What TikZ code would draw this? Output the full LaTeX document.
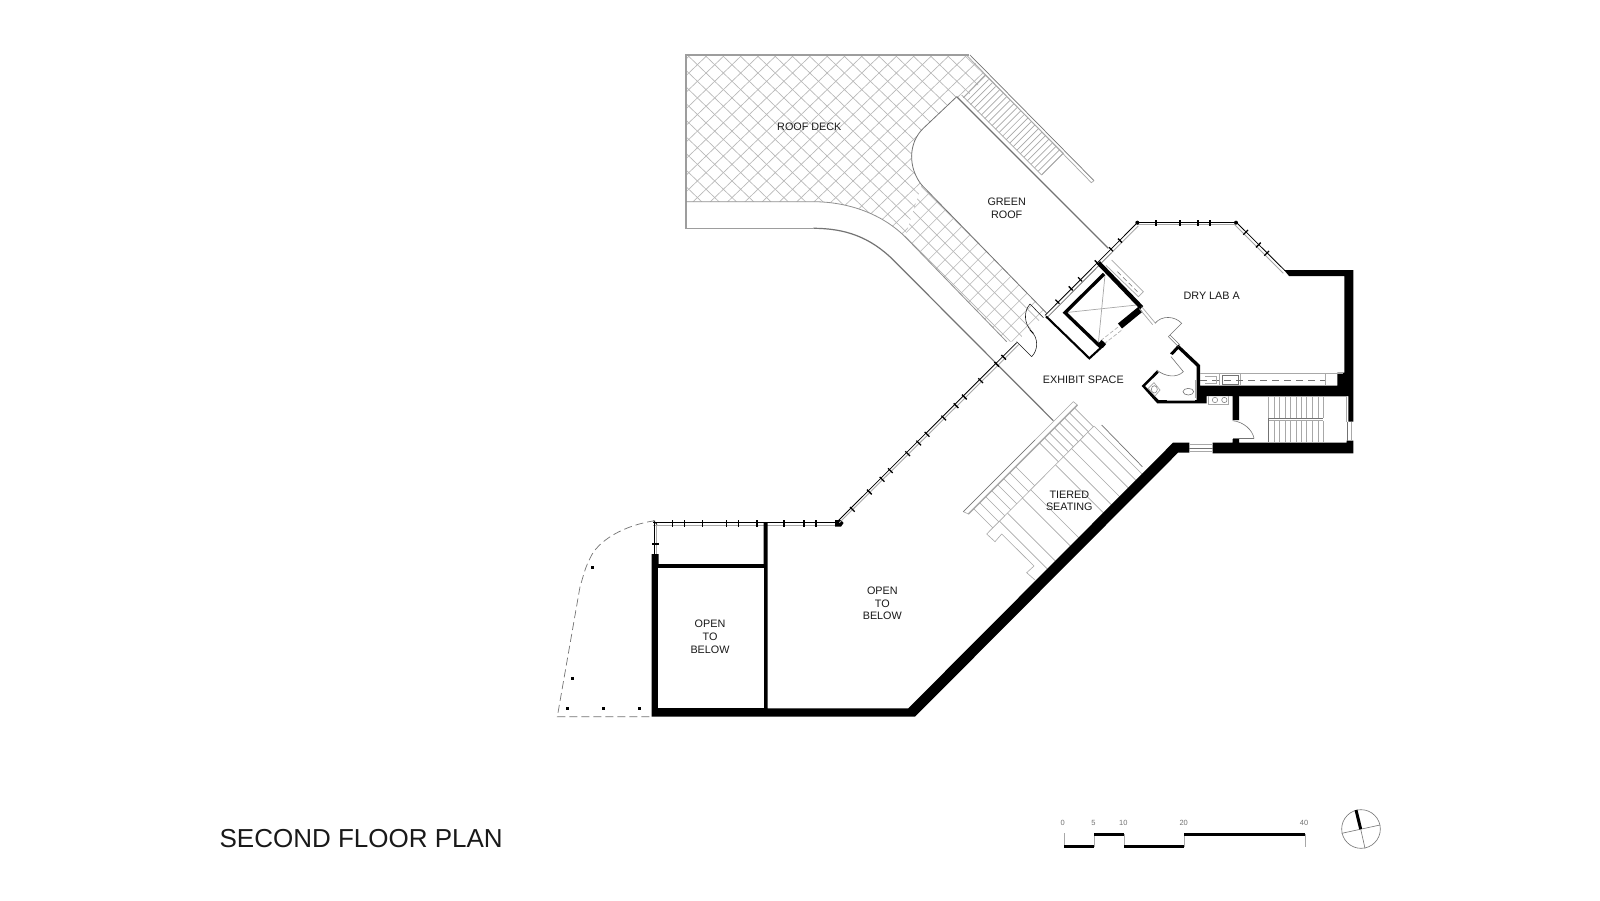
\documentclass[tikz,border=0pt]{standalone}
\usepackage{fontspec}
\setmainfont{Liberation Sans}
\definecolor{hatch}{gray}{0.72}
\definecolor{fine}{gray}{0.66}
\definecolor{mid}{gray}{0.45}
\definecolor{ink}{gray}{0.1}
\tikzset{
  wall/.style={fill=black,draw=none},
  wline/.style={draw=black,line join=miter},
  fineline/.style={draw=fine,line width=0.7pt},
  hatchline/.style={draw=hatch,line width=0.65pt},
  midline/.style={draw=mid,line width=0.9pt},
  doorline/.style={draw=ink,line width=0.55pt},
  doorgray/.style={draw=mid,line width=0.6pt},
  lbl/.style={font=\fontsize{10.8}{12.6}\selectfont,text=ink,align=center,inner sep=0pt},
  scalelbl/.style={font=\fontsize{7.5}{8}\selectfont,text=mid,inner sep=0pt},
  glassA/.style={draw=black,line width=0.8pt},
  glassB/.style={draw=fine,line width=0.9pt},
  tick/.style={draw=black,line width=1.3pt},
  zA/.style={shift={(1000,200)},x=.33333pt,y=-.33333pt},
  zB/.style={shift={(660,40)},x=.33333pt,y=-.33333pt},
  zC/.style={shift={(540,490)},x=.33333pt,y=-.33333pt},
  zD/.style={shift={(940,380)},x=.33333pt,y=-.33333pt},
  zE/.style={shift={(1040,790)},x=.33333pt,y=-.33333pt},
  zF/.style={shift={(1130,320)},x=.33333pt,y=-.33333pt},
  zG/.style={shift={(1030,240)},x=.33333pt,y=-.33333pt},
  zH/.style={shift={(830,340)},x=.33333pt,y=-.33333pt},
  zJ/.style={shift={(950,50)},x=.33333pt,y=-.33333pt},
}
\begin{document}
\begin{tikzpicture}[x=1pt,y=-1pt]
\useasboundingbox (0,0) rectangle (1600,900);
\fill[white] (0,0) rectangle (1600,900);

% ---------- roof deck paving ----------
\begin{scope}
  \clip (686,55) -- (969,55) -- (986.7,76.7) -- (965,98.3) -- (956.7,96.7) -- (923.3,128.3)
     .. controls (908,143) and (908,168) .. (921.7,185) -- (905,236.7)
     .. controls (880,212) and (845,201.7) .. (813.3,201.7) -- (686,201.7) -- cycle;
  \foreach \k in {-16,...,36}{
    \draw[hatchline] ({704.6+17.3*\k},55) -- ++(260,249.6);
    \draw[hatchline] ({724.8+17.3*\k},55) -- ++(-260,249.6);
  }
\end{scope}
\begin{scope}
  \clip (921.7,185) -- (1046.7,313.3) -- (1016.7,341.7) -- (1006.7,341.7) -- (905,236.7) -- cycle;
  \foreach \k in {-5,...,5}{
    \pgfmathsetmacro{\dd}{718.3+16.5*\k}
    \draw[hatchline] ({(1100+\dd)/2},{(1100-\dd)/2}) -- ({(1400+\dd)/2},{(1400-\dd)/2});
  }
  \foreach \k in {-5,...,16}{
    \pgfmathsetmacro{\vv}{1171.7+16.5*\k}
    \draw[hatchline] ({(\vv+600)/2},{(\vv-600)/2}) -- ({(\vv+800)/2},{(\vv-800)/2});
  }
\end{scope}
% deck outline
\draw[draw=mid!70,line width=1.5pt,line join=miter] (969.3,55) -- (686,55) -- (686,228.3) -- (813.3,228.3);
\draw[midline,line width=1.2pt] (813.3,228.3) .. controls (845,228.3) and (870,237) .. (893.3,260) -- (1053.3,420.7);
\draw[fineline,draw=mid!80,line width=0.8pt] (686,201.7) -- (813.3,201.7) .. controls (845,201.7) and (880,212) .. (905,236.7) -- (1006.7,341.7);
% green roof
\draw[midline,line width=0.8pt] (956.7,96.7) -- (923.3,128.3) .. controls (908,143) and (908,168) .. (921.7,185) -- (1046.7,313.3);
\draw[midline,line width=1.2pt] (956.7,96.7) -- (1108.3,248.3);

% ---------- stair on the roof ----------
\begin{scope}[zJ]
  \foreach \i in {0,...,22}{
    \draw[fineline] ({105+\i*10.7},{78+\i*10.5}) -- ({40+\i*10.7},{143+\i*10.5});
  }
  \draw[fineline] (105,75) -- (340,310);
  \draw[fineline] (35,135) -- (275,375);
  \draw[fineline] (105,75) -- (40,143);
  \draw[fineline] (340,310) -- (275,375);
  \draw[draw=mid,line width=0.7pt] (60,15) -- (432,392);
  \draw[draw=fine,line width=0.7pt] (52,18) -- (424,398) -- (432,392);
\end{scope}

% ---------- tiered seating ----------
\begin{scope}[zD]
  \draw[fineline,line width=.6pt] (140,462) -- (462,138);
  \draw[fineline,line width=.6pt] (140,462) -- (165,485) -- (185,462) -- (282,558) -- (260,578) -- (285,600);
  \foreach \d in {-285,-249,-213,-177,-141,-105,-69,-33}{
    \draw[fineline,line width=.6pt] ({(487+\d)/2},{(487-\d)/2}) -- ({(602+\d)/2},{(602-\d)/2});
  }
  \foreach \d in {110,140,170,200,230,260,290,320}{
    \draw[fineline,line width=.6pt] ({(487+\d)/2},{(487-\d)/2}) -- ({(602+\d)/2},{(602-\d)/2});
  }
  \foreach \d in {-245,-197,-107,-57,92,140,189,241,287,324}{
    \draw[fineline,line width=.6pt] ({(602+\d)/2},{(602-\d)/2}) -- ({(890+\d)/2},{(890-\d)/2});
  }
  \draw[fineline,line width=.6pt] (70,395) -- (400,65) -- (412,75) -- (85,402) -- cycle;
  \draw[draw=fine,line width=1.5pt] (85,402) -- (412,75);
  \draw[doorgray] (70,395) -- (285,180);
  \draw[midline,line width=.7pt] (485,135) -- (607,260);
\end{scope}

% ---------- long glazing ----------
\draw[glassB] (653.3,525.3) -- (838.3,525.3);
\draw[glassA] (653.3,521.9) -- (838.3,521.9);
\foreach \a in {672.3,684.3,702.3,726.7,738.7,757,784,804,816}{\draw[tick] (\a,520) -- (\a,527);}
\draw[glassB] (656.9,523) -- (656.9,554);
\draw[glassA] (654.5,523) -- (654.5,554);
\draw[tick] (652,544) -- (659,544);
\fill[black] (835,520) -- (841,520) -- (843.5,523) -- (841,526.7) -- (835,526.7) -- cycle;
\draw[draw=black,line width=.7pt] (653.5,520.5) -- (657,524.5);
\begin{scope}[zH]
  \draw[glassA] (22,545) -- (560,8);
  \draw[glassB] (28,548) -- (566,14);
  \foreach \a/\b in {67/508,118/456,156/418,181/392,233/341,266/309,291/283,341/234,378/197,403/171,452/122,500/73,521/52}{
    \draw[tick] (\a-7,\b-7) -- (\a+7,\b+7);
  }
\end{scope}
\begin{scope}[zA]
  % glazing upper diagonal
  \draw[glassA] (135,346) -- (412,68);
  \draw[glassA,draw=mid] (142,352) -- (335,158);
  \draw[glassB] (335,158) -- (415,78);
  \foreach \a/\b in {172/305,212/265,240/238,290/187,333/148,360/122}{
    \draw[tick] (\a-6,\b-6) -- (\a+6,\b+6);
  }
  % top
  \draw[glassA] (412,66) -- (708,66);
  \draw[glassB] (412,73) -- (708,73);
  \foreach \a in {468,540,594,630}{\draw[tick] (\a,60) -- (\a,78);}
  \fill[black] (412,68) circle (6);
  \fill[black] (708,68) circle (6);
  % right diagonal
  \draw[glassA] (708,66) -- (855,212);
  \draw[glassB] (703,73) -- (850,220);
  \foreach \a/\b in {737/97,775/135,800/160}{
    \draw[tick] (\a-7,\b+7) -- (\a+7,\b-7);
  }
\end{scope}

% ---------- heavy walls ----------
\fill[wall] (651.7,716.7) -- (651.7,554) -- (658.5,554) -- (658.5,564) -- (763.7,564) -- (763.7,522.3) -- (767.7,522.3)
  -- (767.7,708.3) -- (908.3,708.3) -- (1173,442.7) -- (1189.3,442.7) -- (1189.3,452.7) -- (1178,452.7) -- (915,716.7) -- cycle;
\fill[white] (657.7,568) rectangle (763.7,708.3);
\fill[wall] (1284,270) -- (1353.3,270) -- (1353.3,421.7) -- (1348.3,421.7) -- (1348.3,396) -- (1239,396) -- (1239,420)
  -- (1232.7,420) -- (1232.7,396) -- (1206.7,396) -- (1206.7,403.4) -- (1157.3,403.4) -- (1141.7,386) -- (1156.7,370.7)
  -- (1158.7,372.7) -- (1145,386) -- (1158.8,400.2) -- (1196.7,400.2) -- (1196.7,366.5) -- (1178.3,349) -- (1172.7,355) -- (1170,353.5) -- (1178.3,344.5)
  -- (1200,365) -- (1200,385.7) -- (1337.3,385.7) -- (1337.3,372.7) -- (1344.3,372.7) -- (1344.3,276) -- (1289,276) -- cycle;
\fill[wall] (1212.7,442.7) -- (1232.7,442.7) -- (1232.7,439) -- (1239,439) -- (1239,442.7) -- (1346.7,442.7) -- (1346.7,440.7) -- (1353.3,440.7)
  -- (1353.3,453.3) -- (1212.7,453.3) -- cycle;

% ---------- lift core ----------
\begin{scope}[zG]
  \draw[fineline] (225,105) -- (205,310);
  \draw[fineline] (105,218) -- (320,195);
  \draw[fineline] (245,60) -- (340,155) -- (325,170) -- (228,76);
  \draw[draw=mid,line width=.6pt,dash pattern=on 5pt off 3pt] (262,95) -- (322,155);
  \draw[draw=fine,line width=.6pt,dash pattern=on 4pt off 2pt] (212,302) -- (268,258);
  \draw[draw=fine,line width=.6pt,dash pattern=on 4pt off 2pt] (222,312) -- (278,268);
  \draw[line width=2.1pt,line join=miter] (48,229) -- (178,355) -- (225,312);
  \draw[line width=3.3pt,line join=miter] (213,322) -- (105,218) -- (222,102);
  \draw[line width=4.4pt] (205,68) -- (335,203);
  \draw[line width=6.4pt] (331,208) -- (270,258);
  \fill[black] (205,310) -- (215,300) -- (228,312) -- (218,324) -- cycle;
  \draw[fineline] (335,200) -- (375,248);
  \draw[fineline] (328,206) -- (368,254);
\end{scope}

% ---------- doors ----------
\begin{scope}[zB]
  \draw[doorline] (1070,905) -- (1115,950);
  \draw[doorline] (1115,950) .. controls (1135,930) and (1135,895) .. (1115,875);
  \draw[doorline] (1150,833) -- (1110,792);
  \draw[doorline] (1110,792) .. controls (1090,815) and (1092,850) .. (1115,875);
  \draw[line width=1pt] (1110,870) -- (1120,880);
\end{scope}
\begin{scope}[zA]
  \draw[doorgray] (465,370) .. controls (485,345) and (525,348) .. (545,370) -- (505,410);
  \draw[doorgray] (505,410) -- (535,440);
  \draw[doorgray] (510,405) -- (540,435);
  \draw[doorgray] (513,470) -- (550,515) .. controls (530,535) and (495,530) .. (470,510);
  % washroom fittings
  \draw[fineline] (445,565) -- (462,548) -- (480,570) -- (465,588) -- cycle;
  \draw[doorgray,line width=.5pt] (463,568) ellipse (9 and 11);
  \draw[doorgray] (565,575) ellipse (16 and 10);
  \draw[fineline] (585,540) -- (585,595);
  \draw[fineline] (500,600) -- (585,600);
  \draw[doorgray,line width=.5pt] (645,600) circle (8);
  \draw[doorgray,line width=.5pt] (673,600) circle (8);
  \draw[fineline,line width=.5pt] (625,587) -- (625,612) -- (685,612) -- (685,587);
\end{scope}
\begin{scope}[zF]
  % counter
  \draw[fineline] (210,160) -- (640,160);
  \draw[fineline] (268,160) -- (268,197);
  \draw[fineline] (332,160) -- (332,197);
  \draw[fineline] (585,160) -- (585,197);
  \draw[draw=mid,line width=.6pt,dash pattern=on 7pt off 5pt] (210,180) -- (585,180);
  \draw[fineline,line width=.5pt] (225,170) -- (258,170) -- (258,190) -- (225,190);
  \draw[doorgray,line width=.5pt] (278,167) rectangle (325,192);
  % stair
  \draw[fineline] (327,228) -- (650,228) -- (650,305);
  \foreach \x in {415,432,448,465,481,498,514,530,547,564,580}{
    \draw[fineline] (\x,228) -- (\x,295);
    \draw[fineline] (\x,303) -- (\x,366);
  }
  \draw[doorgray] (415,366) -- (415,296) -- (578,296);
  \draw[fineline,line width=1.3pt] (417,301) -- (578,301);
  \draw[fineline] (395,228) -- (580,228);
  % stair door
  \draw[doorgray] (372,355) -- (308,355);
  \draw[doorgray] (372,355) .. controls (368,330) and (340,305) .. (308,302);
  % right side window
  \draw[doorgray] (651,305) -- (651,362);
  \draw[fineline] (663,305) -- (663,362);
  % lower window
  \draw[doorgray] (178,385) -- (248,385);
  \draw[fineline] (178,395) -- (248,395);
  \draw[fineline] (178,372) -- (248,372);
\end{scope}

% ---------- terrace outline ----------
\draw[draw=mid,line width=.7pt,dash pattern=on 8pt off 4pt]
  (655,520.7) .. controls (625,525) and (598,540) .. (590,558.3) .. controls (584,570) and (583,578) .. (580,586.7)
  -- (557.3,716.7) -- (651.7,716.7);
\foreach \x/\y in {592.3/567.3,572.7/678.3,567.3/708.3,603.3/708.3,639.3/708.3}{
  \fill[black] (\x-1.3,\y-1.3) rectangle (\x+1.3,\y+1.3);
}

% ---------- labels ----------
\node[lbl] (roofdeck) at (809.3,126.7) {ROOF DECK};
\node[lbl] (greenroof) at (1006.7,208.3) {GREEN\\ROOF};
\node[lbl] (drylab) at (1211.7,296) {DRY LAB A};
\node[lbl] (exhibit) at (1083.3,380) {EXHIBIT SPACE};
\node[lbl] (tiered) at (1069.3,500.7) {TIERED\\SEATING};
\node[lbl] (opena) at (882.3,603.3) {OPEN\\TO\\BELOW};
\node[lbl] (openb) at (710,636.7) {OPEN\\TO\\BELOW};
\node[font=\fontsize{26}{30}\selectfont,text=ink,inner sep=0pt,anchor=west] (title) at (219.4,839) {SECOND FLOOR PLAN};

% ---------- scale bar ----------
\begin{scope}[zE]
  \node[scalelbl] (s0) at (68,100) {0};
  \node[scalelbl] (s5) at (160,100) {5};
  \node[scalelbl] (s10) at (250,100) {10};
  \node[scalelbl] (s20) at (431,100) {20};
  \node[scalelbl] (s40) at (792,100) {40};
  \draw[fineline] (72,130) -- (72,170);
  \draw[fineline] (162,133) -- (162,170);
  \draw[fineline] (252,133) -- (252,170);
  \draw[fineline] (433,133) -- (433,170);
  \draw[fineline] (795,133) -- (795,170);
  \draw[line width=3pt] (72,170) -- (162,170);
  \draw[line width=3pt] (162,133) -- (252,133);
  \draw[line width=3pt] (252,170) -- (433,170);
  \draw[line width=3pt] (433,133) -- (795,133);
  % north arrow
  \draw[midline,line width=.6pt] (963,117) circle (58);
  \draw[midline,line width=.6pt] (962,117) -- (975,175);
  \draw[midline,line width=.6pt] (905,130) -- (1020,105);
  \draw[line width=3pt] (948,60) -- (962,117);
\end{scope}
\end{tikzpicture}
\end{document}
